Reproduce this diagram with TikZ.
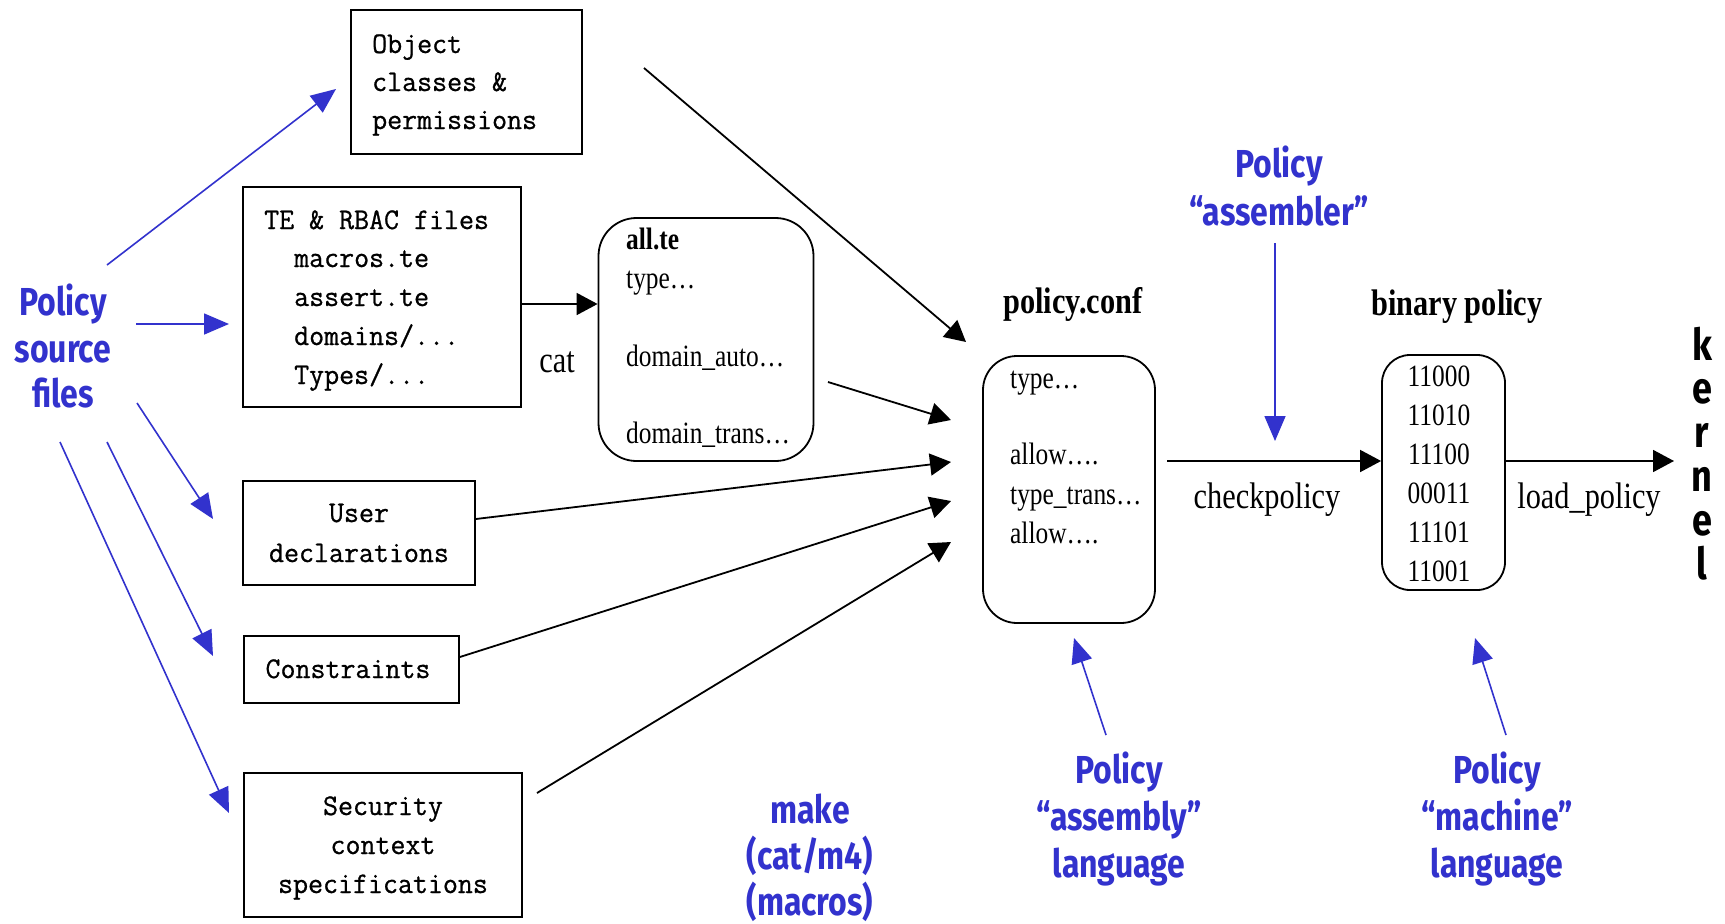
\documentclass[tikz,border=0pt]{standalone}
\usepackage{fontspec}
\setmainfont[FakeStretch=0.82]{Liberation Serif}
\newfontfamily\monof[FakeStretch=0.97,FakeBold=0.8]{Latin Modern Mono}
\newfontfamily\bluef[FakeStretch=0.82]{Fira Sans}
\usetikzlibrary{arrows.meta}
\definecolor{pblue}{RGB}{50,50,205}
\begin{document}
\begin{tikzpicture}[x=1pt,y=-1pt,
  sqbox/.style={draw=black,line width=1.8pt,inner sep=0pt,minimum width=#1},
  rbox/.style={draw=black,line width=1.8pt,rounded corners=#1,inner sep=0pt},
  mono/.style={inner sep=0pt,font=\monof\fontsize{30}{39}\selectfont},
  boxtxt/.style={inner sep=0pt,font=\fontsize{31}{39}\selectfont},
  lbl/.style={inner sep=0pt,font=\fontsize{37}{44}\selectfont},
  ttl/.style={inner sep=0pt,font=\bfseries\fontsize{37}{44}\selectfont},
  bluetxt/.style={inner sep=0pt,text=pblue,font=\bluef\bfseries\fontsize{39}{46}\selectfont},
  kern/.style={inner sep=0pt,font=\bluef\bfseries\fontsize{44}{44}\selectfont},
  blk/.style={draw=black,line width=1.8pt,-{Triangle[length=21pt,width=22pt]}},
  blu/.style={draw=pblue,line width=1.6pt,-{Triangle[length=25pt,width=21pt]}}]
\useasboundingbox (0,0) rectangle (1725,924);
\fill[white] (0,0) rectangle (1725,924);

% boxes
\node[sqbox=231pt,minimum height=144pt] (obj) at (466.5,82) {};
\node[sqbox=278pt,minimum height=220pt] (te) at (382,297) {};
\node[sqbox=232pt,minimum height=104pt] (user) at (359,533) {};
\node[sqbox=215pt,minimum height=67pt] (cons) at (351.5,669.5) {};
\node[sqbox=278pt,minimum height=144pt] (sec) at (383,845) {};
\node[rbox=38pt,minimum width=215pt,minimum height=243pt] (allte) at (706,339.5) {};
\node[rbox=34pt,minimum width=172pt,minimum height=267pt] (pc) at (1069,489.5) {};
\node[rbox=28pt,minimum width=123pt,minimum height=235pt] (bin) at (1443.5,472.5) {};

% mono texts
\node[mono,anchor=base west] (o1) at (372,53) {Object};
\node[mono,anchor=base west] (o2) at (372,91) {classes \&};
\node[mono,anchor=base west] (o3) at (372,129) {permissions};
\node[mono,anchor=base west] (t1) at (264,229) {TE \& RBAC files};
\node[mono,anchor=base west] (t2) at (294,267) {macros.te};
\node[mono,anchor=base west] (t3) at (294,306) {assert.te};
\node[mono,anchor=base west] (t4) at (294,345) {domains/...};
\node[mono,anchor=base west] (t5) at (294,384) {Types/...};
\node[mono,anchor=base] (u1) at (359,522) {User};
\node[mono,anchor=base] (u2) at (359,562) {declarations};
\node[mono,anchor=base] (c1) at (348,678) {Constraints};
\node[mono,anchor=base] (s1) at (383,815) {Security};
\node[mono,anchor=base] (s2) at (383,854) {context};
\node[mono,anchor=base] (s3) at (383,893) {specifications};

% serif texts
\node[boxtxt,anchor=base west,font=\bfseries\fontsize{31}{39}\selectfont] (a1) at (626,249) {all.te};
\node[boxtxt,anchor=base west] (a2) at (626,288) {type…};
\node[boxtxt,anchor=base west] (a3) at (626,366) {domain\_auto…};
\node[boxtxt,anchor=base west] (a4) at (626,443) {domain\_trans…};
\node[boxtxt,anchor=base west] (p1) at (1010,388) {type…};
\node[boxtxt,anchor=base west] (p2) at (1010,464) {allow….};
\node[boxtxt,anchor=base west] (p3) at (1010,504) {type\_trans…};
\node[boxtxt,anchor=base west] (p4) at (1010,543) {allow….};
\node[boxtxt,anchor=base] (b1) at (1439,386) {11000};
\node[boxtxt,anchor=base] (b2) at (1439,425) {11010};
\node[boxtxt,anchor=base] (b3) at (1439,464) {11100};
\node[boxtxt,anchor=base] (b4) at (1439,503) {00011};
\node[boxtxt,anchor=base] (b5) at (1439,542) {11101};
\node[boxtxt,anchor=base] (b6) at (1439,581) {11001};
\node[ttl,anchor=base] (pctitle) at (1073,313) {policy.conf};
\node[ttl,anchor=base] (bintitle) at (1457,315) {binary policy};
\node[lbl,anchor=base] (cat) at (557,372) {cat};
\node[lbl,anchor=base] (chk) at (1267,508) {checkpolicy};
\node[lbl,anchor=base] (load) at (1589,508) {load\_policy};

% kernel
\node[kern,anchor=base] (k1) at (1702,360) {k};
\node[kern,anchor=base] (k2) at (1702,403) {e};
\node[kern,anchor=base] (k3) at (1702,447) {r};
\node[kern,anchor=base] (k4) at (1702,491) {n};
\node[kern,anchor=base] (k5) at (1702,535) {e};
\node[kern,anchor=base] (k6) at (1702,579) {l};

% blue texts
\node[bluetxt,anchor=base] (src1) at (63,315) {Policy};
\node[bluetxt,anchor=base] (src2) at (63,362) {source};
\node[bluetxt,anchor=base] (src3) at (63,407) {files};
\node[bluetxt,anchor=base] (asm1) at (1279,177) {Policy};
\node[bluetxt,anchor=base] (asm2) at (1279,225) {“assembler”};
\node[bluetxt,anchor=base] (al1) at (1119,783) {Policy};
\node[bluetxt,anchor=base] (al2) at (1119,830) {“assembly”};
\node[bluetxt,anchor=base] (al3) at (1119,877) {language};
\node[bluetxt,anchor=base] (ml1) at (1497,783) {Policy};
\node[bluetxt,anchor=base] (ml2) at (1497,830) {“machine”};
\node[bluetxt,anchor=base] (ml3) at (1497,877) {language};
\node[bluetxt,anchor=base] (mk1) at (810,823) {make};
\node[bluetxt,anchor=base] (mk2) at (810,869) {(cat/m4)};
\node[bluetxt,anchor=base] (mk3) at (810,915) {(macros)};

% coordinates for free connector ends
\coordinate (bs1) at (107,265); \coordinate (be1) at (336,89);
\coordinate (bs2) at (136,324); \coordinate (be2) at (229,324);
\coordinate (bs3) at (137,403); \coordinate (be3) at (213,519);
\coordinate (bs4) at (107,442); \coordinate (be4) at (213,656);
\coordinate (bs5) at (60,442);  \coordinate (be5) at (229,813);
\coordinate (as) at (1275,243); \coordinate (ae) at (1275,441);
\coordinate (ls) at (1106,735); \coordinate (le) at (1074,638);
\coordinate (ms) at (1506,735); \coordinate (me) at (1475,638);

\coordinate (os) at (644,68);   \coordinate (oe) at (966,342);
\coordinate (catY) at (0,304);
\coordinate (als) at (828,382); \coordinate (ale) at (951,420);
\coordinate (ue) at (951,462);
\coordinate (ce) at (951,501);
\coordinate (ss) at (537,793);  \coordinate (se) at (951,542);
\coordinate (chkY) at (0,461);
\coordinate (chks) at (1167,461);
\coordinate (kend) at (1674,461);

% blue arrows
\draw[blu] (bs1) -- (be1);
\draw[blu] (bs2) -- (be2);
\draw[blu] (bs3) -- (be3);
\draw[blu] (bs4) -- (be4);
\draw[blu] (bs5) -- (be5);
\draw[blu] (as) -- (ae);
\draw[blu] (ls) -- (le);
\draw[blu] (ms) -- (me);

% black arrows
\draw[blk] (os) -- (oe);
\draw[blk] (te.east |- catY) -- (allte.west |- catY);
\draw[blk] (als) -- (ale);
\draw[blk] (user.east |- 0,519) -- (ue);
\draw[blk] (cons.east |- 0,657) -- (ce);
\draw[blk] (ss) -- (se);
\draw[blk] (chks) -- (bin.west |- chkY);
\draw[blk] (bin.east |- chkY) -- (kend);
\end{tikzpicture}
\end{document}
